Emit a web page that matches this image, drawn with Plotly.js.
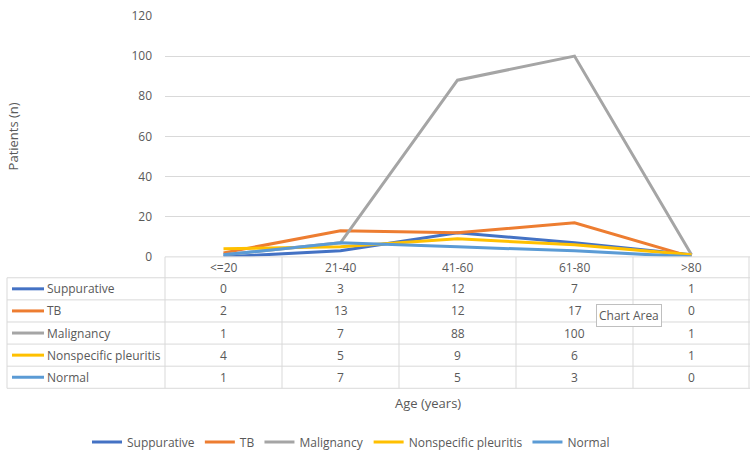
<!DOCTYPE html>
<html>
<head>
<meta charset="utf-8">
<script src="https://cdn.plot.ly/plotly-3.0.1.min.js"></script>
<style>
  html, body { margin: 0; padding: 0; background: #fff; }
  #chart { width: 750px; height: 457px; }
</style>
</head>
<body>
<div id="chart"></div>
<script>
// Patients by age group and diagnosis
const ageGroups = ["<=20", "21-40", "41-60", "61-80", ">80"];
const seriesNames = ["Suppurative", "TB", "Malignancy", "Nonspecific pleuritis", "Normal"];
const suppurative = [0, 3, 12, 7, 1];
const tb = [2, 13, 12, 17, 0];
const malignancy = [1, 7, 88, 100, 1];
const nonspecific = [4, 5, 9, 6, 1];
const normal = [1, 7, 5, 3, 0];
const seriesValues = [suppurative, tb, malignancy, nonspecific, normal];
const seriesColors = ["#4472C4", "#ED7D31", "#A5A5A5", "#FFC000", "#5B9BD5"];
const yTicks = [0, 20, 40, 60, 80, 100, 120];

const W = 750, H = 457;
const FONT = "Open Sans, Noto Sans, sans-serif";
const TXT = "#595959";
const GRID = "#D9D9D9";

// pixel -> paper helpers
const px = x => x / W;
const py = y => (H - y) / H;

// plot area (pixels)
const plotL = 165, plotR = 750, plotT = 16, plotB = 258;
// data table rows (pixels)
const tableLeft = 7;
const headerBottom = 279;
const rowH = 22.2;
const tableBottom = headerBottom + rowH * seriesNames.length;
const colW = (plotR - plotL) / ageGroups.length;

const xIdx = ageGroups.map((_, i) => i);

const traces = seriesNames.map((name, i) => ({
  type: "scatter",
  mode: "lines",
  name: name,
  x: xIdx,
  y: seriesValues[i],
  line: { color: seriesColors[i], width: 3 },
  hoverinfo: "skip"
}));

const shapes = [];
const annotations = [];

// table grid
const lineStyle = { color: GRID, width: 1 };
shapes.push({ type: "line", xref: "paper", yref: "paper", x0: px(plotL), x1: px(plotR), y0: py(plotB), y1: py(plotB), line: lineStyle });
for (let r = 0; r <= seriesNames.length; r++) {
  const y = headerBottom + r * rowH;
  shapes.push({ type: "line", xref: "paper", yref: "paper", x0: px(tableLeft), x1: px(plotR), y0: py(y), y1: py(y), line: lineStyle });
}
shapes.push({ type: "line", xref: "paper", yref: "paper", x0: px(tableLeft), x1: px(tableLeft), y0: py(headerBottom), y1: py(tableBottom), line: lineStyle });
for (let c = 0; c <= ageGroups.length; c++) {
  const x = Math.min(plotL + c * colW, plotR - 1);
  shapes.push({ type: "line", xref: "paper", yref: "paper", x0: px(x), x1: px(x), y0: py(plotB), y1: py(tableBottom), line: lineStyle });
}

// header labels
ageGroups.forEach((g, c) => {
  annotations.push({
    xref: "paper", yref: "paper", x: px(plotL + (c + 0.5) * colW), y: py((plotB + headerBottom) / 2),
    text: g, showarrow: false, xanchor: "center", yanchor: "middle",
    font: { family: FONT, size: 12, color: TXT }
  });
});

// series rows: key line, name, values
seriesNames.forEach((name, r) => {
  const yc = headerBottom + (r + 0.5) * rowH;
  shapes.push({ type: "line", xref: "paper", yref: "paper", x0: px(12), x1: px(44), y0: py(yc), y1: py(yc), line: { color: seriesColors[r], width: 3 } });
  annotations.push({
    xref: "paper", yref: "paper", x: px(45), y: py(yc), text: name, showarrow: false,
    xanchor: "left", yanchor: "middle", font: { family: FONT, size: 12, color: TXT }
  });
  seriesValues[r].forEach((v, c) => {
    annotations.push({
      xref: "paper", yref: "paper", x: px(plotL + (c + 0.5) * colW), y: py(yc), text: String(v),
      showarrow: false, xanchor: "center", yanchor: "middle",
      font: { family: FONT, size: 12, color: TXT }
    });
  });
});

// axis titles
annotations.push({
  xref: "paper", yref: "paper", x: px(428), y: py(405), text: "Age (years)", showarrow: false,
  xanchor: "center", yanchor: "middle", font: { family: FONT, size: 13, color: TXT }
});
annotations.push({
  xref: "paper", yref: "paper", x: px(13), y: py(137), text: "Patients (n)", showarrow: false,
  textangle: -90, xanchor: "center", yanchor: "middle", font: { family: FONT, size: 13, color: TXT }
});

// hover hint box
annotations.push({
  xref: "paper", yref: "paper", x: px(629), y: py(317), text: "Chart Area", showarrow: false,
  xanchor: "center", yanchor: "middle", bgcolor: "#FFFFFF", bordercolor: "#BFBFBF", borderwidth: 1, borderpad: 2,
  font: { family: FONT, size: 12, color: TXT }
});

const layout = {
  width: W, height: H,
  margin: { l: 0, r: 0, t: 0, b: 0 },
  paper_bgcolor: "#FFFFFF",
  plot_bgcolor: "#FFFFFF",
  font: { family: FONT, color: TXT },
  showlegend: true,
  legend: {
    orientation: "h", x: px(351), xanchor: "center", y: py(444), yanchor: "middle",
    font: { family: FONT, size: 12, color: TXT }, itemwidth: 30, tracegroupgap: 0
  },
  xaxis: {
    domain: [px(plotL), px(plotR)],
    range: [-0.5, ageGroups.length - 0.5],
    showticklabels: false, showgrid: false, zeroline: false, showline: false, ticks: "",
    fixedrange: true
  },
  yaxis: {
    domain: [py(plotB), py(plotT)],
    range: [0, 120],
    tickvals: yTicks,
    ticktext: yTicks.map(String),
    showgrid: true, gridcolor: GRID, gridwidth: 1,
    zeroline: false, showline: false, ticks: "",
    ticklabelstandoff: 12,
    tickfont: { family: FONT, size: 12, color: TXT },
    fixedrange: true
  },
  shapes: shapes,
  annotations: annotations
};

Plotly.newPlot("chart", traces, layout, { displayModeBar: false, staticPlot: true });
</script>
</body>
</html>
